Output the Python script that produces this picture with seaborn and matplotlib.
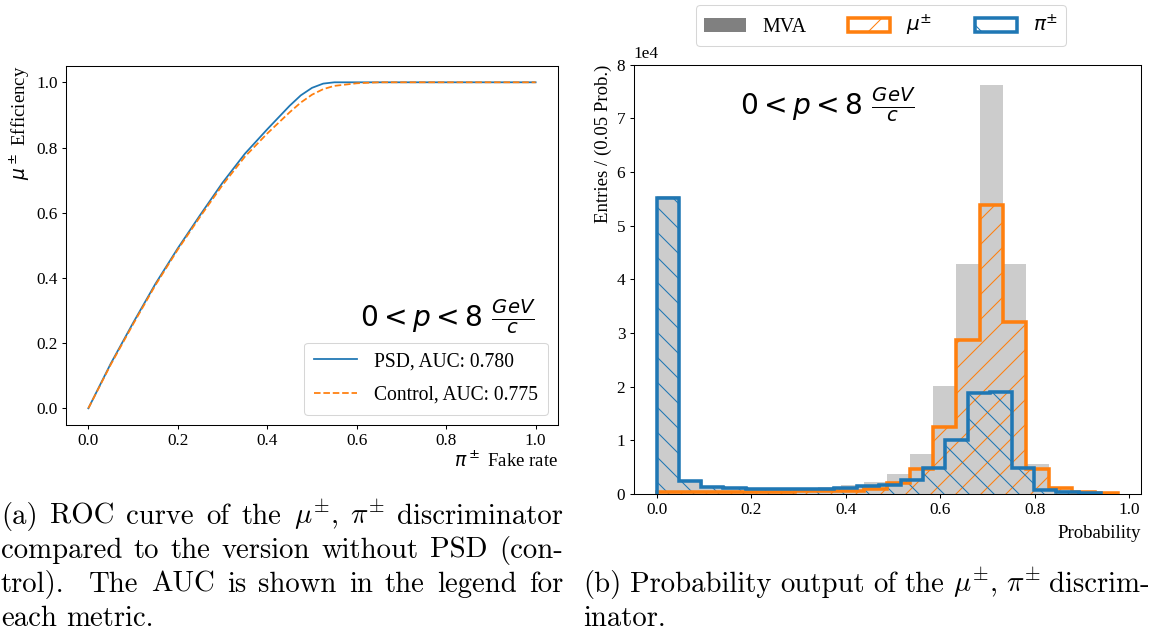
import numpy as np
import matplotlib
matplotlib.use("Agg")
import matplotlib.pyplot as plt
from matplotlib.patches import Patch
import seaborn as sns

# ---------------- data ----------------
# ROC curves: muon efficiency versus pion fake rate
fake_rate = [0.0, 0.05, 0.10, 0.15, 0.20, 0.25, 0.30, 0.35, 0.40, 0.45,
             0.475, 0.50, 0.525, 0.55, 0.60, 0.65, 1.0]
eff_psd = [0.0, 0.137, 0.262, 0.382, 0.491, 0.593, 0.692, 0.781, 0.856, 0.928,
           0.960, 0.983, 0.996, 1.0, 1.0, 1.0, 1.0]
eff_control = [0.0, 0.134, 0.258, 0.378, 0.487, 0.588, 0.685, 0.772, 0.843, 0.908,
               0.938, 0.962, 0.979, 0.989, 0.997, 1.0, 1.0]
auc_psd = 0.780
auc_control = 0.775

# Probability histograms (20 bins each over the given range)
mva_range = (0.0, 0.976)
mva_counts = [55500, 2600, 1500, 1300, 1200, 1200, 1200, 1300, 1700, 2200,
              3700, 7400, 20200, 42800, 76300, 42800, 5500, 1200, 500, 200]
mu_range = (0.0, 0.976)
mu_counts = [300, 300, 350, 400, 400, 450, 500, 550, 650, 900,
             2000, 4700, 12500, 28700, 53800, 32000, 4600, 1200, 450, 250]
pi_range = (0.0, 0.94)
pi_counts = [55200, 2400, 1300, 1050, 950, 900, 900, 1000, 1150, 1400,
             1700, 2600, 4900, 10000, 18900, 19100, 4900, 700, 350, 150]

# ---------------- style ----------------
DPI = 150
BLUE = "#1f77b4"
ORANGE = "#ff7f0e"

plt.rcParams.update({
    "font.family": ["Liberation Serif", "DejaVu Serif"],
    "mathtext.fontset": "dejavusans",
    "axes.linewidth": 0.5,
    "xtick.major.width": 0.5,
    "ytick.major.width": 0.5,
    "xtick.major.size": 2.0,
    "ytick.major.size": 2.0,
    "xtick.major.pad": 2.0,
    "ytick.major.pad": 2.0,
    "xtick.labelsize": 8.3,
    "ytick.labelsize": 8.3,
    "axes.labelsize": 9.0,
    "hatch.linewidth": 0.5,
})

fig = plt.figure(figsize=(1153 / DPI, 635 / DPI), dpi=DPI)
W, H = 1153, 635


def px_axes(left, top, right, bottom):
    return fig.add_axes([left / W, 1 - bottom / H, (right - left) / W, (bottom - top) / H])


# ---------------- (a) ROC curves ----------------
ax1 = px_axes(66, 66, 558, 424.6)
sns.lineplot(x=fake_rate, y=eff_psd, ax=ax1, color=BLUE, lw=0.85,
             label=f"PSD, AUC: {auc_psd:.3f}")
sns.lineplot(x=fake_rate, y=eff_control, ax=ax1, color=ORANGE, lw=0.85,
             linestyle="--", label=f"Control, AUC: {auc_control:.3f}")
ax1.set_xticks(np.arange(0, 1.01, 0.2))
ax1.set_yticks(np.arange(0, 1.01, 0.2))
ax1.set_xlabel(r"$\pi^\pm$ Fake rate", loc="right", labelpad=1)
ax1.set_ylabel(r"$\mu^\pm$ Efficiency", loc="top", labelpad=2)
leg1 = ax1.legend(loc="lower right", fontsize=9.4, handlelength=2.2,
                  labelspacing=0.75, handletextpad=0.9, borderpad=0.5)
leg1.get_frame().set_linewidth(0.5)
ax1.text(0.955, 0.30, r"$0 < p < 8\ \frac{GeV}{c}$", transform=ax1.transAxes,
         ha="right", va="center", fontsize=13.5)

# ---------------- (b) probability output ----------------
ax2 = px_axes(633.6, 64.7, 1141, 494)


def centers(rng, n):
    w = (rng[1] - rng[0]) / n
    return rng[0] + w * (np.arange(n) + 0.5)


sns.histplot(x=centers(mva_range, len(mva_counts)), weights=mva_counts,
             bins=len(mva_counts), binrange=mva_range, ax=ax2,
             color="gray", alpha=0.4, element="bars", linewidth=0, zorder=1)

for counts, rng, col, hatch in [(mu_counts, mu_range, ORANGE, "//"),
                                (pi_counts, pi_range, BLUE, "\\\\")]:
    n = len(counts)
    sns.histplot(x=centers(rng, n), weights=counts, bins=n, binrange=rng, ax=ax2,
                 element="step", fill=True, color=col, facecolor="none",
                 edgecolor=col, linewidth=0, hatch=hatch, zorder=2)
    edges = np.linspace(rng[0], rng[1], n + 1)
    ax2.stairs(counts, edges, color=col, linewidth=1.7, zorder=3)

ax2.set_ylim(0, 80000)
ax2.set_xticks(np.arange(0, 1.01, 0.2))
ax2.ticklabel_format(axis="y", style="sci", scilimits=(0, 0))
ax2.yaxis.get_offset_text().set_fontsize(8.3)
ax2.set_xlabel("Probability", loc="right", labelpad=3)
ax2.set_ylabel("Entries / (0.05 Prob.)", loc="top", labelpad=2)
ax2.text(0.383, 0.908, r"$0 < p < 8\ \frac{GeV}{c}$", transform=ax2.transAxes,
         ha="center", va="center", fontsize=13.5)

handles = [
    Patch(facecolor="gray", edgecolor="none", label="MVA"),
    Patch(facecolor="none", edgecolor=ORANGE, hatch="/", linewidth=1.7, label=r"$\mu^{\pm}$"),
    Patch(facecolor="none", edgecolor=BLUE, hatch="\\", linewidth=1.7, label=r"$\pi^{\pm}$"),
]
leg2 = fig.legend(handles=handles, loc="upper center", ncol=3, fontsize=9.6,
                  bbox_to_anchor=(881 / W, 1 - 5 / H), borderaxespad=0,
                  handlelength=2.1, columnspacing=2.1)
leg2.get_frame().set_linewidth(0.5)

# ---------------- captions ----------------
CAP_SIZE = 13.8
renderer = fig.canvas.get_renderer()


def caption_line(text, x0, x1, baseline, justify):
    words = text.split(" ")
    arts = [fig.text(0, 1 - baseline / H, w, fontsize=CAP_SIZE, family="cmr10",
                     math_fontfamily="cm", va="baseline", ha="left") for w in words]
    widths = [a.get_window_extent(renderer).width for a in arts]
    if justify and len(words) > 1:
        gap = (x1 - x0 - sum(widths)) / (len(words) - 1)
    else:
        gap = 0.333 * CAP_SIZE * DPI / 72
    x = x0
    for a, w in zip(arts, widths):
        a.set_x(x / W)
        x += w + gap


left_caption = [
    (r"(a) ROC curve of the $\mu^{\pm}$, $\pi^{\pm}$ discriminator", True),
    ("compared to the version without PSD (con-", True),
    ("trol).  The AUC is shown in the legend for", True),
    ("each metric.", False),
]
right_caption = [
    (r"(b) Probability output of the $\mu^{\pm}$, $\pi^{\pm}$ discrim-", True),
    ("inator.", False),
]
for i, (line, just) in enumerate(left_caption):
    caption_line(line, 1, 563, 524 + 34 * i, just)
for i, (line, just) in enumerate(right_caption):
    caption_line(line, 583, 1150, 592 + 34 * i, just)

fig.savefig("out.png", dpi=DPI)
